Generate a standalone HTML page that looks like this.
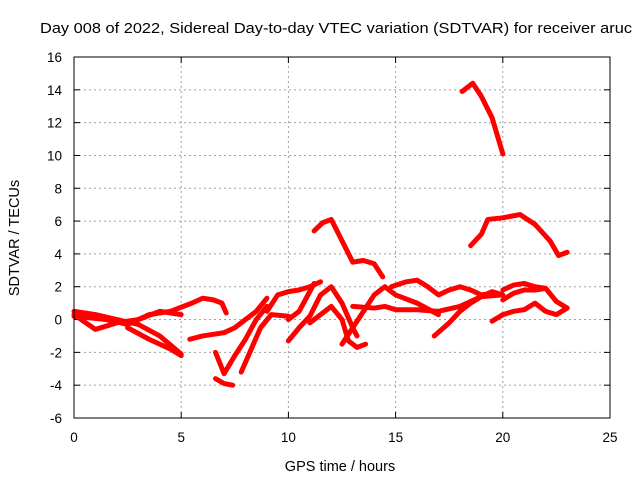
<!DOCTYPE html>
<html><head><meta charset="utf-8"><style>
html,body{margin:0;padding:0;background:#fff;}
svg{display:block;font-family:"Liberation Sans",Arial,sans-serif;}
</style></head><body>
<svg id="chart" width="640" height="480" viewBox="0 0 640 480" xmlns="http://www.w3.org/2000/svg">
<text x="40" y="33" font-size="14.5" textLength="592" lengthAdjust="spacingAndGlyphs" fill="#000">Day 008 of 2022, Sidereal Day-to-day VTEC variation (SDTVAR) for receiver aruc</text>
<text x="340" y="471" font-size="14.5" text-anchor="middle">GPS time / hours</text>
<text transform="translate(19,238) rotate(-90)" font-size="14.5" text-anchor="middle">SDTVAR / TECUs</text>
<g id="grid"></g>
<g id="ticks"></g>
<g id="series"></g>
<rect x="74" y="57" width="536" height="361" fill="none" stroke="#000" stroke-width="1"/>
</svg>
<script>
const xTicks = [0,5,10,15,20,25];
const yTicks = [-6,-4,-2,0,2,4,6,8,10,12,14,16];
const trackTop = [[18.1,13.9],[18.6,14.4],[19.0,13.6],[19.5,12.3],[20.0,10.1]];
const trackHigh = [[18.5,4.5],[19.0,5.2],[19.3,6.1],[20,6.2],[20.8,6.4],[21.5,5.8],[22.2,4.8],[22.6,3.9],[23,4.1]];
const trackMid = [[11.2,5.4],[11.6,5.9],[12,6.1],[12.5,4.8],[13,3.5],[13.5,3.6],[14,3.4],[14.4,2.6]];
const trackA = [[0,0.5],[1,0.3],[2,0],[3,-0.3],[4,-1],[5,-2.1]];
const trackB = [[0,0.3],[1,-0.6],[1.5,-0.4],[2,-0.2],[3,0],[4,0.5],[5,0.3]];
const trackC = [[2.5,-0.5],[3.5,-1.2],[4.5,-1.8],[5,-2.2]];
const trackD = [[0,0.2],[1.5,0],[2.5,-0.3],[3.5,0.3],[4.5,0.5],[5.5,1],[6,1.3],[6.5,1.2],[6.9,1.0],[7.1,0.4]];
const trackE = [[5.4,-1.2],[6,-1.0],[7,-0.8],[7.5,-0.5],[8,0.0],[8.5,0.5],[9,1.3]];
const trackF = [[6.6,-2],[7,-3.3],[7.5,-2.2],[8,-1.2],[8.5,0],[9,0.8]];
const trackG = [[6.6,-3.6],[7,-3.9],[7.4,-4.0]];
const trackH = [[7.8,-3.2],[8.2,-2],[8.7,-0.5],[9.2,0.3],[10,0.2]];
const trackI = [[9.0,0.5],[9.5,1.5],[10,1.7],[10.5,1.8],[11,2.0],[11.5,2.3]];
const trackJ = [[10,-1.3],[10.5,-0.5],[11,0.2],[11.5,1.5],[12,2],[12.5,1],[13,-0.5],[13.2,-1]];
const trackK = [[10,0],[10.5,0.5],[11.2,2.2]];
const trackL = [[11,-0.2],[11.5,0.3],[12,0.8],[12.5,0],[12.8,-1.3],[13.2,-1.7],[13.6,-1.5]];
const trackM = [[12.5,-1.5],[13,-0.5],[13.5,0.5],[14,1.5],[14.5,2],[15,1.5],[16,1],[17,0.3]];
const trackN = [[13,0.8],[14,0.7],[14.5,0.8],[15,0.6],[16,0.6],[17,0.5],[18,0.8],[19,1.4],[20,1.5]];
const trackO = [[14.8,2.0],[15.5,2.3],[16,2.4],[16.5,2],[17,1.5],[17.5,1.8],[18,2],[18.5,1.8],[19,1.5],[19.5,1.6]];
const trackP = [[16.8,-1],[17.5,-0.2],[18,0.5],[18.5,1],[19,1.4],[19.5,1.7],[20,1.5]];
const trackQ = [[19.5,-0.1],[20,0.3],[20.5,0.5],[21,0.6],[21.5,1],[22,0.5],[22.5,0.3],[23,0.7]];
const trackR = [[20,1.2],[20.5,1.6],[21,1.8],[21.5,1.8],[22,1.9],[22.5,1.1],[23,0.7]];
const trackS = [[20,1.8],[20.5,2.1],[21,2.2],[21.5,2],[22,1.9]];
const tracks = [trackTop,trackHigh,trackMid,trackA,trackB,trackC,trackD,trackE,trackF,trackG,trackH,trackI,trackJ,trackK,trackL,trackM,trackN,trackO,trackP,trackQ,trackR,trackS];

const X0=74,X1=610,Y0=418,Y1=57;
const xs=h=>X0+(h-0)/(25-0)*(X1-X0);
const ys=v=>Y0-(v+6)/(16+6)*(Y0-Y1);
const NS="http://www.w3.org/2000/svg";
function mk(tag,attrs,parent){const e=document.createElementNS(NS,tag);for(const k in attrs)e.setAttribute(k,attrs[k]);parent.appendChild(e);return e;}
const grid=document.getElementById('grid'),ticks=document.getElementById('ticks'),series=document.getElementById('series');
xTicks.forEach(t=>{const x=xs(t);
 if(t>0&&t<25){const g=mk('line',{x1:x,x2:x,y1:Y0,y2:Y1,stroke:'#a0a0a0','stroke-dasharray':'2,3','stroke-width':1},grid);
 
 }
 mk('line',{x1:x,x2:x,y1:Y0,y2:Y0-6,stroke:'#000'},ticks);
 mk('line',{x1:x,x2:x,y1:Y1,y2:Y1+6,stroke:'#000'},ticks);
 const tx=mk('text',{x:x,y:Y0+24,'font-size':'13.5','text-anchor':'middle'},ticks);tx.textContent=t;
 
 
});
yTicks.forEach(t=>{const y=ys(t);
 if(t>-6&&t<16){const g=mk('line',{x1:X0,x2:X1,y1:y,y2:y,stroke:'#a0a0a0','stroke-dasharray':'2,3','stroke-width':1},grid);
 
 }
 mk('line',{x1:X0,x2:X0+6,y1:y,y2:y,stroke:'#000'},ticks);
 mk('line',{x1:X1,x2:X1-6,y1:y,y2:y,stroke:'#000'},ticks);
 const tx=mk('text',{x:X0-12,y:y+5,'font-size':'13.5','text-anchor':'end'},ticks);tx.textContent=t;
 
 
});
tracks.forEach((tr,i)=>{
 const p=mk('polyline',{points:tr.map(d=>xs(d[0])+','+ys(d[1])).join(' '),fill:'none',stroke:'#ff0000','stroke-width':5,'stroke-linejoin':'round','stroke-linecap':'round'},series);
 
 
});
</script>
</body></html>
